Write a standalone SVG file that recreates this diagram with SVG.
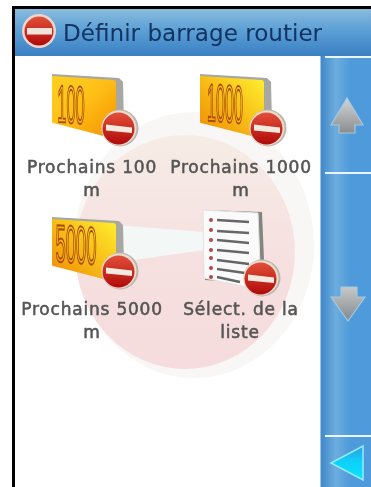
<svg xmlns="http://www.w3.org/2000/svg" width="371" height="487" viewBox="0 0 371 487">
<style>
.soft{filter:url(#soft)}
.lbl{font-family:"DejaVu Sans",sans-serif;font-size:17px;letter-spacing:.8px;fill:#555;text-anchor:middle;stroke:#555;stroke-width:.55}
.num{font-family:"Liberation Sans",sans-serif;font-size:53px;fill:none;stroke:#a84c08;stroke-width:1.500;text-anchor:middle;vector-effect:non-scaling-stroke}
.sep{fill:#eaf4fb}
</style>
<defs>
<filter id="soft" x="-5%" y="-5%" width="110%" height="110%"><feGaussianBlur stdDeviation=".4"/></filter>
<linearGradient id="title" x1="0" y1="0" x2="0" y2="1"><stop offset="0" stop-color="#8abbdd"/><stop offset=".45" stop-color="#5ba0d6"/><stop offset="1" stop-color="#3a80c2"/></linearGradient>
<linearGradient id="side" x1="0" y1="0" x2="1" y2="0"><stop offset="0" stop-color="#3f88ca"/><stop offset=".3" stop-color="#6cadde"/><stop offset=".6" stop-color="#4f9ada"/><stop offset="1" stop-color="#4f9ada"/></linearGradient>
<linearGradient id="card" x1="0" y1="0" x2="1" y2="1"><stop offset="0" stop-color="#ffd020"/><stop offset=".45" stop-color="#ffc018"/><stop offset="1" stop-color="#f59400"/></linearGradient>
<linearGradient id="card2" x1="0" y1="1" x2="1" y2="0"><stop offset="0" stop-color="#f08a00"/><stop offset="1" stop-color="#fff030"/></linearGradient>
<linearGradient id="red" x1="0" y1="0" x2="0" y2="1"><stop offset="0" stop-color="#e2503a"/><stop offset="1" stop-color="#b00a0a"/></linearGradient>
<linearGradient id="arr" x1="0" y1="0" x2="0" y2="1"><stop offset="0" stop-color="#d0d6da"/><stop offset="1" stop-color="#8c8c8c"/></linearGradient>
<linearGradient id="arr2" x1="0" y1="0" x2="0" y2="1"><stop offset="0" stop-color="#c8c8c8"/><stop offset="1" stop-color="#7f8a90"/></linearGradient>
<linearGradient id="back" x1="0" y1="0" x2="0" y2="1"><stop offset="0" stop-color="#2f9ce0"/><stop offset=".45" stop-color="#10d0f8"/><stop offset="1" stop-color="#10e4ff"/></linearGradient>
<linearGradient id="wm" x1="0" y1="0" x2="0" y2="1"><stop offset="0" stop-color="#f6ece6"/><stop offset=".6" stop-color="#f6dfdf"/><stop offset="1" stop-color="#f6dcdc"/></linearGradient>
<g id="noentry">
<circle cx="1" cy="0" r="18.5" fill="#bdb5ac"/>
<circle cx="0" cy="0" r="17.5" fill="#ecdcd0"/>
<circle cx="-.5" cy=".5" r="16" fill="url(#red)"/>
<path d="M-13-3.5L13-.5V5L-13 2.5Z" fill="#f3e9df"/>
</g>
<path id="shell" d="M1 0L68 4L72 8L73 50L66 66L2 47Z" fill="#a8a8a2"/>
</defs>
<rect width="371" height="487" fill="#fff"/>
<g id="watermark" class="soft">
<ellipse cx="194" cy="245" rx="120" ry="133" fill="#f9f7f5"/>
<ellipse cx="185" cy="252" rx="110" ry="117" fill="url(#wm)"/>
<path d="M76 222L205 232V250L76 268Z" fill="#f3f8f6"/>
</g>
<rect x="12" y="6" width="359" height="3" fill="#000"/>
<rect x="12" y="6" width="3" height="481" fill="#000"/>
<g id="title-bar">
<rect x="15" y="9" width="356" height="47" fill="url(#title)"/>
<circle cx="39" cy="31" r="17" fill="#f0d5cf"/>
<circle cx="39" cy="31" r="14.5" fill="url(#red)"/>
<rect x="27" y="28" width="25" height="6.500" fill="#f0e4dc"/>
<text x="63" y="41" font-family="'DejaVu Sans',sans-serif" font-size="23.100" fill="#12305f" class="soft">Définir barrage routier</text>
</g>
<g id="side-panel">
<rect x="320.500" y="56" width="50.500" height="431" fill="url(#side)"/>
<rect class="sep" x="325" y="56" width="46" height="2"/>
<rect class="sep" x="325" y="172" width="46" height="2"/>
<rect class="sep" x="325" y="435" width="46" height="2"/>
</g>
<g id="node-up" class="soft">
<path d="M331 125L347 98L363 125H355V133H339V125Z" fill="url(#arr)" stroke="#a6c8dc" stroke-width="1.200"/>
</g>
<g id="node-down" class="soft">
<path d="M341 287H357V297H365L348 321L331 297H341Z" fill="url(#arr2)" stroke="#a6c8dc" stroke-width="1.200"/>
</g>
<g id="node-back" class="soft">
<path d="M363 446V480L331 463Z" fill="url(#back)" stroke="#90eeff" stroke-width="1.500"/>
</g>
<g id="node-100">
<g class="soft">
<use href="#shell" x="51" y="74"/>
<path d="M52 76L113 80Q116 80 116 83V130L104 136L53 123Q52 123 52 121Z" fill="url(#card)"/>
<text class="num" transform="translate(71 123) skewY(4) scale(.31 1)">100</text>
<use href="#noentry" x="119" y="128"/>
</g>
<text class="lbl soft" x="92" y="173">Prochains 100</text>
<text class="lbl soft" x="92" y="196">m</text>
</g>
<g id="node-1000">
<g class="soft">
<use href="#shell" x="199" y="74"/>
<path d="M200 76L261 80Q264 80 264 83V130L252 136L201 123Q200 123 200 121Z" fill="url(#card2)"/>
<text class="num" transform="translate(225 122) skewY(4) scale(.305 1)">1000</text>
<use href="#noentry" x="267" y="128"/>
</g>
<text class="lbl soft" x="241" y="173">Prochains 1000</text>
<text class="lbl soft" x="241" y="196">m</text>
</g>
<g id="node-5000">
<g class="soft">
<use href="#shell" x="51" y="217"/>
<path d="M52 219L113 223Q116 223 116 226V273L104 279L53 266Q52 266 52 264Z" fill="url(#card2)"/>
<text class="num" transform="translate(76 263) skewY(4) scale(.35 1)">5000</text>
<use href="#noentry" x="119" y="271"/>
</g>
<text class="lbl soft" x="92" y="315">Prochains 5000</text>
<text class="lbl soft" x="92" y="338">m</text>
</g>
<g id="node-list">
<g class="soft">
<path d="M205 210L262 212L265 284L205 280Z" fill="#85857f"/>
<path d="M203 210L258 213L261 290L204 278Z" fill="#fafafa" stroke="#e2e2e2"/>
<g fill="#b5454c">
<circle cx="211" cy="220" r="2"/><circle cx="211" cy="230" r="2"/><circle cx="211" cy="240" r="2"/><circle cx="211" cy="250" r="2"/><circle cx="211" cy="258" r="2"/><circle cx="211" cy="268" r="2"/><circle cx="211" cy="277" r="2"/>
</g>
<path d="M217 220L249 222M217 231L249 233M217 240L249 243M217 250L249 253M217 260L249 264M217 269L245 273M217 277L240 282" stroke="#666" stroke-width="2.400"/>
<use href="#noentry" x="261" y="278"/>
</g>
<text class="lbl soft" x="241" y="315">Sélect. de la</text>
<text class="lbl soft" x="240" y="338">liste</text>
</g>
</svg>
